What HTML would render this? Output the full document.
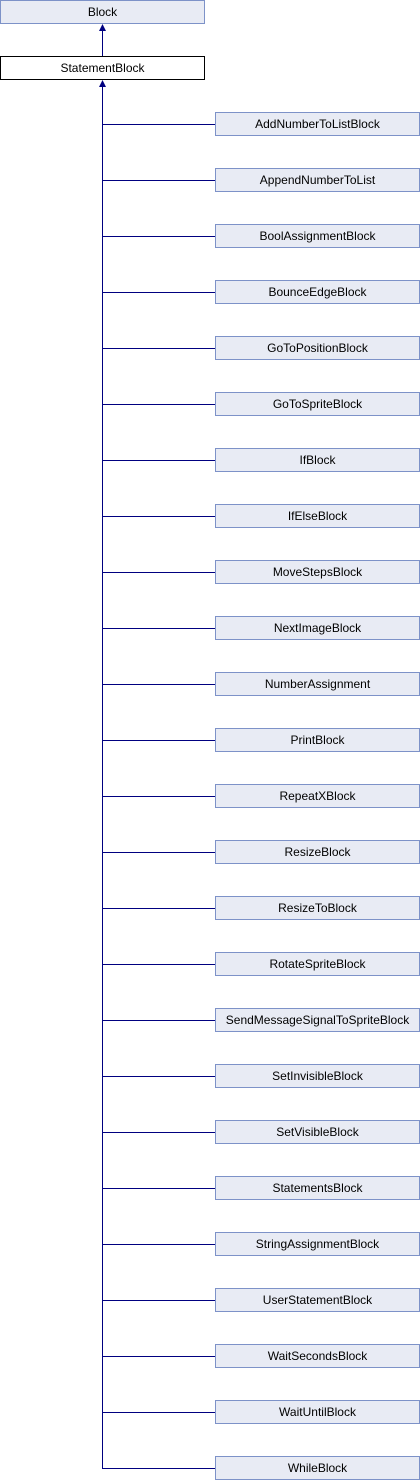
<!DOCTYPE html>
<html><head><style>
body{margin:0;width:420px;height:1480px;background:#fff;position:relative;overflow:hidden;font-family:"Liberation Sans",sans-serif;font-size:12px;color:#000}
.b{position:absolute;box-sizing:border-box;height:24px;line-height:22px;text-align:center;border:1px solid #7d92c8;background:#e8ebf4;white-space:nowrap}
.c{left:215px;width:205px}
svg{position:absolute;left:0;top:0}
</style></head><body>
<svg width="420" height="1480">
<g stroke="#000080" fill="#000080" stroke-width="1">
<line x1="102.5" y1="30" x2="102.5" y2="56"/>
<polygon points="102.5,24 99,31 106,31" stroke="none"/>
<line x1="102.5" y1="86" x2="102.5" y2="1468"/>
<polygon points="102.5,80 99,87 106,87" stroke="none"/>
<g id="h"></g>
</g>
</svg>
<div class="b" style="left:0;top:0;width:205px">Block</div>
<div class="b" style="left:0;top:56px;width:205px;background:#fff;border-color:#000">StatementBlock</div>
<div id="k"></div>
<script>
var n=["AddNumberToListBlock","AppendNumberToList","BoolAssignmentBlock","BounceEdgeBlock","GoToPositionBlock","GoToSpriteBlock","IfBlock","IfElseBlock","MoveStepsBlock","NextImageBlock","NumberAssignment","PrintBlock","RepeatXBlock","ResizeBlock","ResizeToBlock","RotateSpriteBlock","SendMessageSignalToSpriteBlock","SetInvisibleBlock","SetVisibleBlock","StatementsBlock","StringAssignmentBlock","UserStatementBlock","WaitSecondsBlock","WaitUntilBlock","WhileBlock"];
var h="",g="";
n.forEach(function(t,i){var y=112+56*i;h+='<div class="b c" style="top:'+y+'px">'+t+'</div>';g+='<line x1="102" y1="'+(y+12.5)+'" x2="215" y2="'+(y+12.5)+'"/>';});
document.getElementById("k").innerHTML=h;
document.getElementById("h").innerHTML=g;
</script>
</body></html>
